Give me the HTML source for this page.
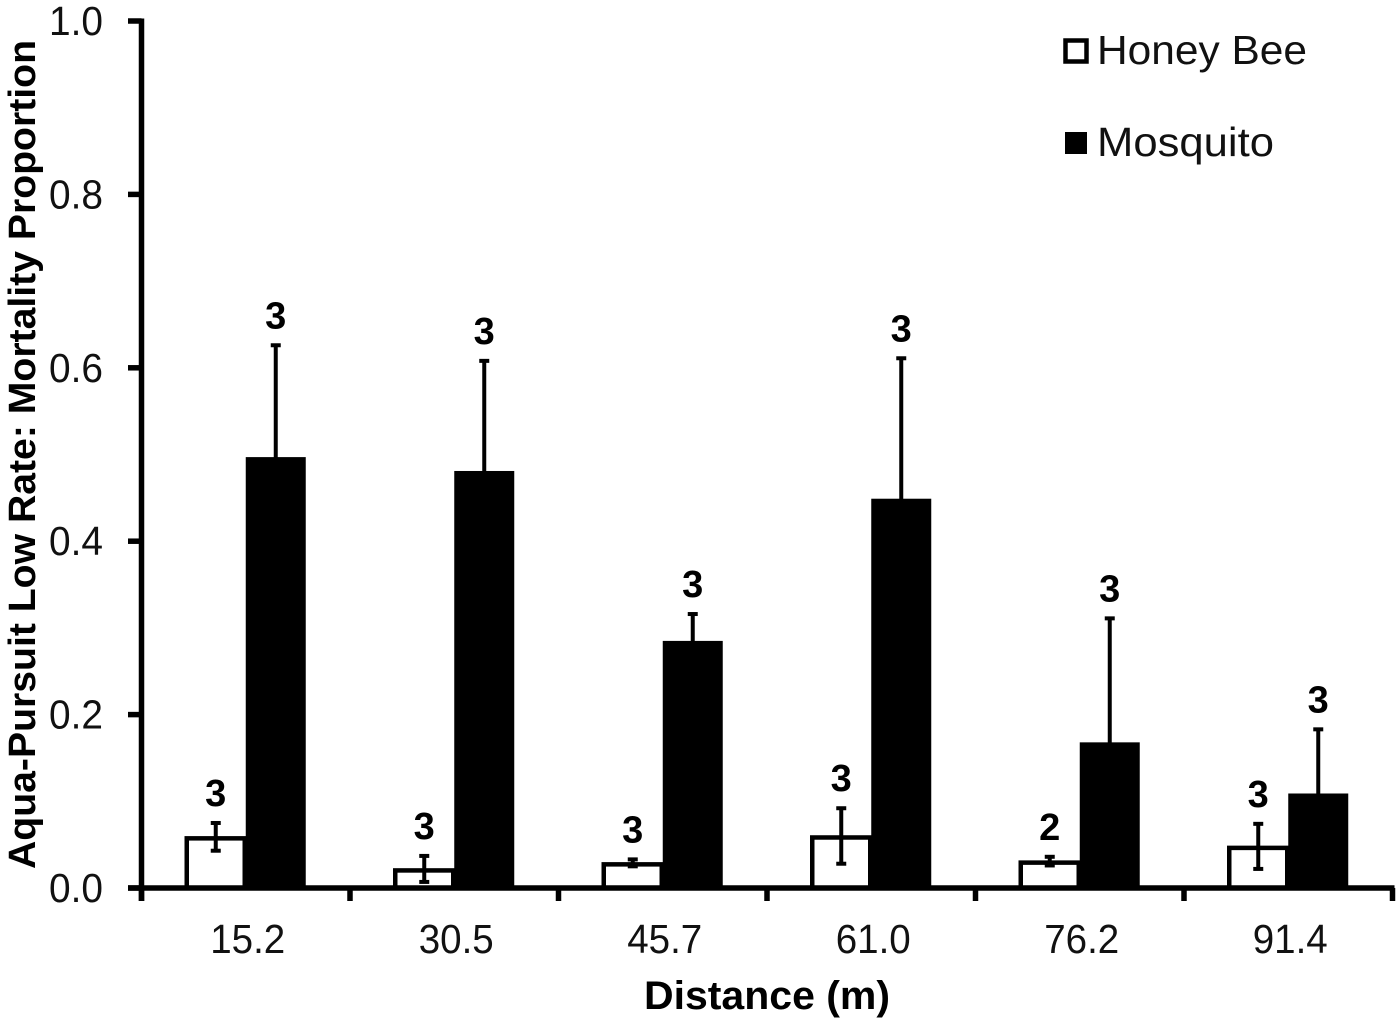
<!DOCTYPE html>
<html lang="en">
<head>
<meta charset="utf-8">
<title>Aqua-Pursuit Low Rate Mortality Proportion</title>
<style>
  html, body { margin: 0; padding: 0; background: #fff; }
  svg { display: block; font-family: "Liberation Sans", sans-serif; }
</style>
</head>
<body>
<svg id="chart" xmlns="http://www.w3.org/2000/svg" width="1400" height="1021" viewBox="0 0 1400 1021">
  <rect x="0" y="0" width="1400" height="1021" fill="#fff"/>
  <g id="bars"></g>
  <g id="errors"></g>
  <g id="counts"></g>
  <g id="axes"></g>
  <text transform="translate(35 869) rotate(-90)" font-size="38" font-weight="700" fill="#000" textLength="829" lengthAdjust="spacingAndGlyphs">Aqua-Pursuit Low Rate: Mortality Proportion</text>
  <text x="644" y="1009" font-size="40" font-weight="700" fill="#000" textLength="246" lengthAdjust="spacingAndGlyphs">Distance (m)</text>
  <g>
    <g>
      <rect x="1065.5" y="40.5" width="21" height="21" fill="#fff" stroke="#000" stroke-width="4.5"/>
      <text x="1097" y="64" font-size="41" fill="#111" textLength="210" lengthAdjust="spacingAndGlyphs">Honey Bee</text>
    </g>
    <g>
      <rect x="1065" y="132" width="22" height="22" fill="#000"/>
      <text x="1097" y="156" font-size="41" fill="#111" textLength="177" lengthAdjust="spacingAndGlyphs">Mosquito</text>
    </g>
  </g>
</svg>
<script>
const categories = ["15.2", "30.5", "45.7", "61.0", "76.2", "91.4"];
const yTickLabels = ["0.0", "0.2", "0.4", "0.6", "0.8", "1.0"];
const yTickValues = [0, 0.2, 0.4, 0.6, 0.8, 1.0];
const honeyBeeValues = [0.059, 0.022, 0.029, 0.060, 0.031, 0.048];
const honeyBeeErrors = [0.016, 0.015, 0.004, 0.032, 0.005, 0.026];
const honeyBeeCounts = ["3", "3", "3", "3", "2", "3"];
const mosquitoValues = [0.497, 0.481, 0.285, 0.449, 0.168, 0.109];
const mosquitoErrors = [0.129, 0.127, 0.031, 0.162, 0.143, 0.074];
const mosquitoCounts = ["3", "3", "3", "3", "3", "3"];

const NS = "http://www.w3.org/2000/svg";
const plotLeft = 141.5;
const plotRight = 1392.5;
const plotBottom = 888;
const plotTop = 21;
const barWidth = 60;

function xBand() {
  return (plotRight - plotLeft) / categories.length;
}
function xCenter(i) {
  return plotLeft + xBand() * (i + 0.5);
}
function yScale(v) {
  return plotBottom - (plotBottom - plotTop) * v;
}
function make(tag, parent, attrs, text) {
  const el = document.createElementNS(NS, tag);
  for (const key in attrs) {
    el.setAttribute(key, attrs[key]);
  }
  if (text !== undefined) {
    el.textContent = text;
  }
  parent.appendChild(el);
  return el;
}

const barsGroup = document.getElementById("bars");
const errorsGroup = document.getElementById("errors");
const countsGroup = document.getElementById("counts");
const axesGroup = document.getElementById("axes");

function drawSeries(seriesName, values, errors, counts, direction, fill) {
  values.forEach(function (value, i) {
    const center = xCenter(i);
    const barLeft = direction < 0 ? center - barWidth : center;
    const barTop = yScale(value);
    const inset = fill === "#fff" ? 1.5 : 0;
    const bar = make("rect", barsGroup, {
      x: barLeft + inset - (fill === "#fff" ? 0.5 : 0),
      y: barTop + inset,
      width: barWidth - inset * 2 + (fill === "#fff" ? 1 : 0),
      height: Math.max(plotBottom - barTop - inset, 0),
      fill: fill,
      stroke: fill === "#fff" ? "#000" : "none",
      "stroke-width": 4.5
    });
    
    

    const ex = center + direction * barWidth / 2;
    const upperY = yScale(value + errors[i]);
    const lowerY = yScale(Math.max(value - errors[i], 0));
    const stem = make("line", errorsGroup, {
      x1: ex, x2: ex, y1: upperY, y2: lowerY,
      stroke: "#000", "stroke-width": 4
    });
    
    
    const capTop = make("line", errorsGroup, {
      x1: ex - 5, x2: ex + 5, y1: upperY, y2: upperY,
      stroke: "#000", "stroke-width": 4
    });
    
    
    const capBottom = make("line", errorsGroup, {
      x1: ex - 5, x2: ex + 5, y1: lowerY, y2: lowerY,
      stroke: "#000", "stroke-width": 4
    });
    
    

    const count = make("text", countsGroup, {
      x: ex,
      y: upperY - 17,
      "font-size": 38,
      "font-weight": 700,
      "text-anchor": "middle",
      fill: "#000"
    }, counts[i]);
    
    
  });
}

drawSeries("honey-bee", honeyBeeValues, honeyBeeErrors, honeyBeeCounts, -1, "#fff");
drawSeries("mosquito", mosquitoValues, mosquitoErrors, mosquitoCounts, 1, "#000");

const yAxisLine = make("line", axesGroup, {
  x1: plotLeft, x2: plotLeft, y1: plotTop - 2.5, y2: 901,
  stroke: "#000", "stroke-width": 5.5
});



const xAxisLine = make("line", axesGroup, {
  x1: 128, x2: plotRight + 2, y1: plotBottom, y2: plotBottom,
  stroke: "#000", "stroke-width": 5.5
});



yTickValues.forEach(function (value, i) {
  const y = yScale(value);
  const tick = make("line", axesGroup, {
    x1: 128, x2: plotLeft, y1: y, y2: y,
    stroke: "#000", "stroke-width": 5.5
  });
  
  
  const label = make("text", axesGroup, {
    x: 49,
    y: y + 14,
    "font-size": 41,
    fill: "#111",
    textLength: 54,
    lengthAdjust: "spacingAndGlyphs"
  }, yTickLabels[i]);
  
  
});

for (let i = 0; i <= categories.length; i++) {
  const x = plotLeft + xBand() * i;
  const tick = make("line", axesGroup, {
    x1: x, x2: x, y1: plotBottom, y2: 901,
    stroke: "#000", "stroke-width": 5.5
  });
  
  
}

categories.forEach(function (category, i) {
  const label = make("text", axesGroup, {
    x: xCenter(i) + 2,
    y: 953,
    "font-size": 41,
    fill: "#111",
    "text-anchor": "middle",
    textLength: 75,
    lengthAdjust: "spacingAndGlyphs"
  }, category);
  
  
});
</script>
</body>
</html>
